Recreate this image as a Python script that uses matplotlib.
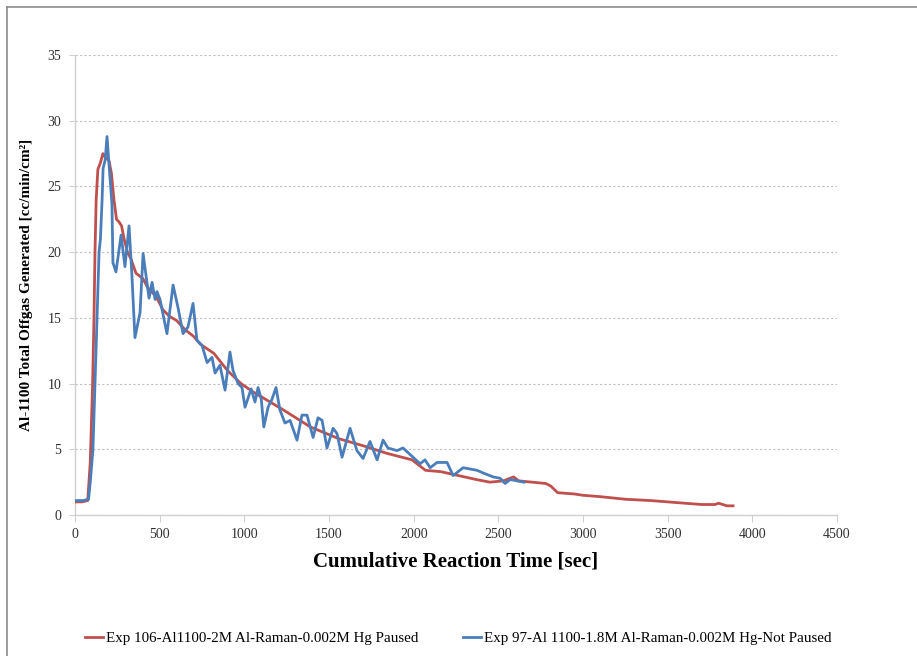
"""Offgas generation rate for two Al-1100 dissolution runs."""

import matplotlib

matplotlib.use("Agg")
import matplotlib.pyplot as plt
from matplotlib.lines import Line2D

plt.rcParams["font.family"] = ["Liberation Serif", "DejaVu Serif"]

# Exp 106 (paused run): time [sec], rate [cc/min/cm2]
paused_time = [
    0, 40, 75, 90, 104, 112, 118, 125, 135, 150, 165, 180, 200, 215, 230,
    245, 260, 275, 290, 310, 330, 360, 400, 430, 480, 520, 560, 600, 650,
    700, 740, 820, 900, 980, 1060, 1100, 1230, 1390, 1560, 1720, 1840,
    1990, 2070, 2160, 2230, 2300, 2370, 2450, 2530, 2590, 2620, 2700, 2780,
    2810, 2850, 2950, 3000, 3100, 3250, 3400, 3600, 3700, 3780, 3800, 3850,
    3886,
]
paused_rate = [
    1.0, 1.0, 1.1, 4.0, 10.0, 15.0, 20.0, 24.0, 26.3, 26.8, 27.5, 27.2,
    27.0, 26.0, 24.0, 22.5, 22.3, 22.0, 21.0, 20.0, 19.5, 18.4, 18.0, 17.3,
    16.6, 15.6, 15.1, 14.8, 14.1, 13.6, 13.0, 12.3, 11.0, 10.0, 9.3, 9.0,
    8.0, 6.7, 5.8, 5.2, 4.7, 4.2, 3.4, 3.3, 3.1, 2.9, 2.7, 2.5, 2.6, 2.9,
    2.6, 2.5, 2.4, 2.2, 1.7, 1.6, 1.5, 1.4, 1.2, 1.1, 0.9, 0.8, 0.8, 0.9,
    0.7, 0.7,
]

# Exp 97 (not paused run)
unpaused_time = [
    0, 50, 80, 90, 106, 118, 130, 142, 150, 160, 166, 178, 189, 200, 218,
    224, 242, 272, 295, 319, 335, 354, 384, 402, 437, 455, 473, 484, 502,
    543, 579, 608, 638, 667, 697, 720, 750, 780, 809, 827, 856, 886, 915,
    933, 963, 986, 1004, 1040, 1063, 1081, 1100, 1115, 1140, 1163, 1187,
    1210, 1240, 1270, 1311, 1340, 1370, 1406, 1435, 1459, 1488, 1524, 1547,
    1577, 1624, 1665, 1701, 1742, 1784, 1819, 1848, 1902, 1937, 1996, 2038,
    2067, 2097, 2138, 2197, 2233, 2292, 2375, 2410, 2469, 2510, 2540, 2570,
    2652,
]
unpaused_rate = [
    1.1, 1.1, 1.2, 2.5, 5.0, 10.0, 15.0, 20.0, 21.0, 24.0, 26.4, 27.0, 28.8,
    26.8, 23.7, 19.2, 18.5, 21.3, 18.9, 22.0, 18.5, 13.5, 15.4, 19.9, 16.5,
    17.7, 16.4, 17.0, 16.4, 13.8, 17.5, 15.8, 13.8, 14.3, 16.1, 13.3, 12.9,
    11.6, 12.0, 10.8, 11.4, 9.5, 12.4, 11.0, 10.0, 9.7, 8.2, 9.6, 8.6, 9.7,
    8.8, 6.7, 8.2, 8.8, 9.7, 8.0, 7.0, 7.2, 5.7, 7.6, 7.6, 5.9, 7.4, 7.2,
    5.1, 6.6, 6.2, 4.4, 6.6, 4.9, 4.3, 5.6, 4.2, 5.7, 5.1, 4.9, 5.1, 4.4,
    3.9, 4.2, 3.6, 4.0, 4.0, 3.0, 3.6, 3.4, 3.2, 2.9, 2.8, 2.4, 2.7, 2.5,
]

x_ticks = list(range(0, 4501, 500))
y_ticks = list(range(0, 36, 5))

paused_label = "Exp 106-Al1100-2M Al-Raman-0.002M Hg Paused"
unpaused_label = "Exp 97-Al 1100-1.8M Al-Raman-0.002M Hg-Not Paused"

fig = plt.figure(figsize=(9.17, 6.56), dpi=100)
ax = fig.add_axes([0.0818, 0.2149, 0.831, 0.7012])

ax.plot(paused_time, paused_rate, color="#C0504D", lw=2.0, label=paused_label,
        zorder=3, solid_joinstyle="round")
ax.plot(unpaused_time, unpaused_rate, color="#4A7EBB", lw=2.0, label=unpaused_label,
        zorder=4, solid_joinstyle="round")

ax.set_xlim(0, 4500)
ax.set_ylim(0, 35)
ax.set_xticks(x_ticks)
ax.set_yticks(y_ticks)
ax.grid(axis="y", color="#BFBFBF", linestyle=(0, (2, 2)), lw=0.8)
ax.set_axisbelow(True)

for side in ("top", "right"):
    ax.spines[side].set_visible(False)
for side in ("left", "bottom"):
    ax.spines[side].set_color("#D0D0D0")
    ax.spines[side].set_linewidth(1.0)

ax.tick_params(axis="x", direction="out", length=5, color="#D0D0D0",
               labelsize=10, labelcolor="#303030", pad=4)
ax.tick_params(axis="y", direction="out", length=4, color="#D0D0D0",
               labelsize=10, labelcolor="#303030", pad=6)

ax.set_xlabel("Cumulative Reaction Time [sec]", fontsize=15, fontweight="bold", labelpad=8)
ax.set_ylabel("Al-1100 Total Offgas Generated [cc/min/cm²]",
              fontsize=11, fontweight="bold", labelpad=10)

fig.legend(
    loc="center",
    bbox_to_anchor=(0.5, 0.027),
    ncol=2,
    frameon=False,
    fontsize=10.8,
    handlelength=1.2,
    handletextpad=0.2,
    columnspacing=3.0,
)

# chart-area frame (left and top edges)
fig.add_artist(Line2D([0.0076, 0.0076], [0.0, 0.9893], color="#8C8C8C", lw=1.2,
                      transform=fig.transFigure))
fig.add_artist(Line2D([0.0076, 1.0], [0.9893, 0.9893], color="#8C8C8C", lw=1.2,
                      transform=fig.transFigure))

fig.savefig("out.png", dpi=100)
